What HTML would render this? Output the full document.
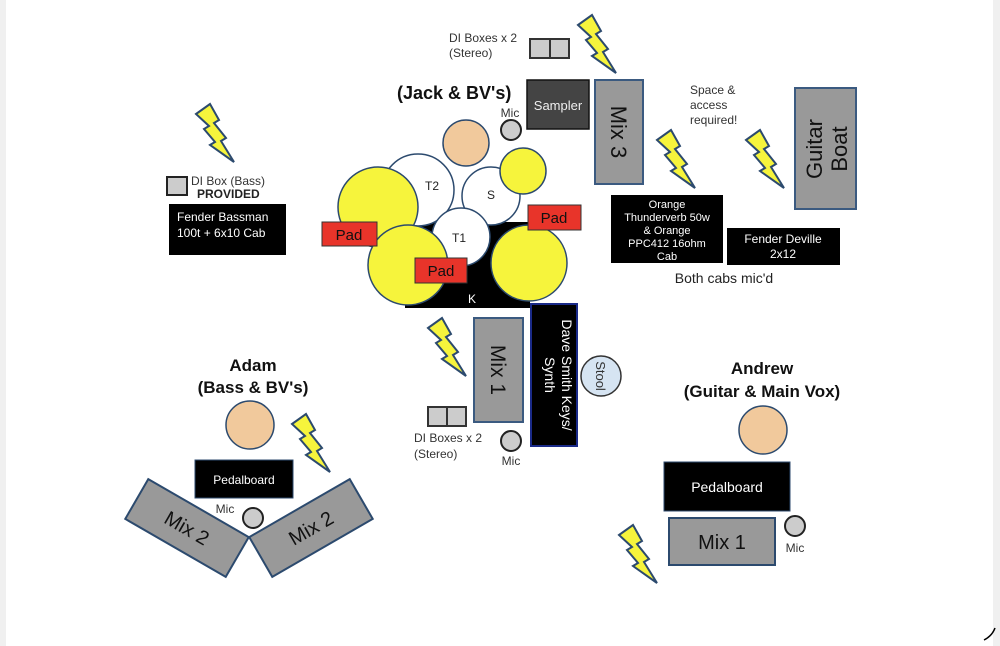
<!DOCTYPE html>
<html><head><meta charset="utf-8"><style>
html,body{margin:0;padding:0;background:#fff;}
svg{display:block;font-family:"Liberation Sans",Arial,sans-serif;}
</style></head><body>
<svg width="1000" height="646" viewBox="0 0 1000 646" xmlns="http://www.w3.org/2000/svg">
<defs>
<path id="b" d="M0,10 L14,0 L23,16 L18,19 L30,34 L25,37 L38,58 L14,41 L19,38 L8,25 L13,22 Z" fill="#f6f43c" stroke="#2c4a6e" stroke-width="2" stroke-linejoin="miter"/>
</defs>
<rect x="0" y="0" width="1000" height="646" fill="#fff"/>
<rect x="0" y="0" width="6" height="646" fill="#f0f0f0"/>
<rect x="993" y="0" width="7" height="646" fill="#f0f0f0"/>
<path d="M984,640 Q992,636 995,628" fill="none" stroke="#000" stroke-width="1.5"/>

<use href="#b" x="578" y="15"/>
<use href="#b" x="196" y="104"/>
<use href="#b" x="657" y="130"/>
<use href="#b" x="746" y="130"/>
<use href="#b" x="428" y="318"/>
<use href="#b" x="292" y="414"/>
<use href="#b" x="619" y="525"/>

<text x="449" y="42" font-size="12" fill="#333">DI Boxes x 2</text>
<text x="449" y="57" font-size="12" fill="#333">(Stereo)</text>
<rect x="530" y="39" width="20" height="19" fill="#ccc" stroke="#333" stroke-width="2"/>
<rect x="550" y="39" width="19" height="19" fill="#ccc" stroke="#333" stroke-width="2"/>

<text x="397" y="99" font-size="18" font-weight="bold" fill="#111">(Jack &amp; BV's)</text>
<rect x="527" y="80" width="62" height="49" fill="#444" stroke="#111" stroke-width="1.5"/>
<text x="558" y="110" font-size="13" fill="#eee" text-anchor="middle">Sampler</text>
<rect x="595" y="80" width="48" height="104" fill="#999" stroke="#3b5a80" stroke-width="2"/>
<text transform="translate(611,132) rotate(90)" font-size="22" text-anchor="middle" fill="#111">Mix 3</text>
<text x="510" y="117" font-size="12" fill="#333" text-anchor="middle">Mic</text>
<circle cx="511" cy="130" r="10" fill="#ccc" stroke="#222" stroke-width="2"/>

<circle cx="466" cy="143" r="23" fill="#f1c99c" stroke="#2c4a6e" stroke-width="1.5"/>
<rect x="405" y="222" width="125" height="86" fill="#000"/>
<circle cx="418" cy="190" r="36" fill="#fff" stroke="#2c4a6e" stroke-width="1.5"/>
<circle cx="491" cy="196" r="29" fill="#fff" stroke="#2c4a6e" stroke-width="1.5"/>
<circle cx="523" cy="171" r="23" fill="#f6f43c" stroke="#2c4a6e" stroke-width="1.5"/>
<circle cx="378" cy="207" r="40" fill="#f6f43c" stroke="#2c4a6e" stroke-width="1.5"/>
<circle cx="461" cy="237" r="29" fill="#fff" stroke="#2c4a6e" stroke-width="1.5"/>
<circle cx="408" cy="265" r="40" fill="#f6f43c" stroke="#2c4a6e" stroke-width="1.5"/>
<circle cx="529" cy="263" r="38" fill="#f6f43c" stroke="#2c4a6e" stroke-width="1.5"/>
<text x="425" y="190" font-size="12" fill="#222">T2</text>
<text x="487" y="199" font-size="12" fill="#222">S</text>
<text x="452" y="242" font-size="12" fill="#222">T1</text>
<text x="468" y="303" font-size="12" fill="#fff">K</text>
<rect x="322" y="222" width="55" height="24" fill="#e8342a" stroke="#333" stroke-width="1"/>
<text x="349" y="240" font-size="15" text-anchor="middle" fill="#111">Pad</text>
<rect x="415" y="258" width="52" height="25" fill="#e8342a" stroke="#333" stroke-width="1"/>
<text x="441" y="276" font-size="15" text-anchor="middle" fill="#111">Pad</text>
<rect x="528" y="205" width="53" height="25" fill="#e8342a" stroke="#333" stroke-width="1"/>
<text x="554" y="223" font-size="15" text-anchor="middle" fill="#111">Pad</text>

<rect x="474" y="318" width="49" height="104" fill="#999" stroke="#3b5a80" stroke-width="2"/>
<text transform="translate(491,370) rotate(90)" font-size="21" text-anchor="middle" fill="#111">Mix 1</text>
<rect x="531" y="304" width="46" height="142" fill="#000" stroke="#1a2a88" stroke-width="2"/>
<text transform="translate(562,375) rotate(90)" font-size="14" text-anchor="middle" fill="#fff">Dave Smith Keys/</text>
<text transform="translate(545,375) rotate(90)" font-size="14" text-anchor="middle" fill="#fff">Synth</text>
<circle cx="601" cy="376" r="20" fill="#d6e4f2" stroke="#333" stroke-width="1.5"/>
<text transform="translate(596,376) rotate(90)" font-size="13" text-anchor="middle" fill="#333">Stool</text>
<rect x="428" y="407" width="19" height="19" fill="#ccc" stroke="#333" stroke-width="2"/>
<rect x="447" y="407" width="19" height="19" fill="#ccc" stroke="#333" stroke-width="2"/>
<text x="414" y="442" font-size="12" fill="#333">DI Boxes x 2</text>
<text x="414" y="458" font-size="12" fill="#333">(Stereo)</text>
<circle cx="511" cy="441" r="10" fill="#ccc" stroke="#222" stroke-width="2"/>
<text x="511" y="465" font-size="12" fill="#333" text-anchor="middle">Mic</text>

<text x="690" y="94" font-size="12" fill="#333">Space &amp;</text>
<text x="690" y="109" font-size="12" fill="#333">access</text>
<text x="690" y="124" font-size="12" fill="#333">required!</text>
<rect x="795" y="88" width="61" height="121" fill="#999" stroke="#3b5a80" stroke-width="2"/>
<text transform="translate(822,149) rotate(-90)" font-size="22" text-anchor="middle" fill="#111">Guitar</text>
<text transform="translate(847,149) rotate(-90)" font-size="22" text-anchor="middle" fill="#111">Boat</text>
<rect x="611" y="195" width="112" height="68" fill="#000"/>
<text font-size="11" fill="#fff" text-anchor="middle"><tspan x="667" y="208">Orange</tspan><tspan x="667" y="221">Thunderverb 50w</tspan><tspan x="667" y="234">&amp; Orange</tspan><tspan x="667" y="247">PPC412 16ohm</tspan><tspan x="667" y="260">Cab</tspan></text>
<rect x="727" y="228" width="113" height="37" fill="#000"/>
<text x="783" y="243" font-size="12" fill="#fff" text-anchor="middle">Fender Deville</text>
<text x="783" y="258" font-size="12" fill="#fff" text-anchor="middle">2x12</text>
<text x="724" y="283" font-size="14" fill="#222" text-anchor="middle">Both cabs mic'd</text>

<rect x="167" y="177" width="20" height="18" fill="#ccc" stroke="#222" stroke-width="2"/>
<text x="191" y="185" font-size="12" fill="#333">DI Box (Bass)</text>
<text x="197" y="198" font-size="12" font-weight="bold" fill="#222">PROVIDED</text>
<rect x="169" y="204" width="117" height="51" fill="#000"/>
<text x="177" y="221" font-size="12" fill="#fff">Fender Bassman</text>
<text x="177" y="237" font-size="12" fill="#fff">100t + 6x10 Cab</text>

<text x="253" y="371" font-size="17" font-weight="bold" text-anchor="middle" fill="#111">Adam</text>
<text x="253" y="393" font-size="17" font-weight="bold" text-anchor="middle" fill="#111">(Bass &amp; BV's)</text>
<circle cx="250" cy="425" r="24" fill="#f1c99c" stroke="#2c4a6e" stroke-width="1.5"/>
<rect x="195" y="460" width="98" height="38" fill="#000" stroke="#2c4a6e" stroke-width="1"/>
<text x="244" y="484" font-size="12" fill="#fff" text-anchor="middle">Pedalboard</text>
<g transform="translate(187,528) rotate(30)"><rect x="-58" y="-23" width="116" height="46" fill="#999" stroke="#2c4a6e" stroke-width="2"/><text x="0" y="7" font-size="20" text-anchor="middle" fill="#111">Mix 2</text></g>
<g transform="translate(311,528) rotate(-30)"><rect x="-58" y="-23" width="116" height="46" fill="#999" stroke="#2c4a6e" stroke-width="2"/><text x="0" y="7" font-size="20" text-anchor="middle" fill="#111">Mix 2</text></g>
<circle cx="253" cy="518" r="10" fill="#ccc" stroke="#222" stroke-width="2"/>
<text x="225" y="513" font-size="12" fill="#333" text-anchor="middle">Mic</text>

<text x="762" y="374" font-size="17" font-weight="bold" text-anchor="middle" fill="#111">Andrew</text>
<text x="762" y="397" font-size="17" font-weight="bold" text-anchor="middle" fill="#111">(Guitar &amp; Main Vox)</text>
<circle cx="763" cy="430" r="24" fill="#f1c99c" stroke="#2c4a6e" stroke-width="1.5"/>
<rect x="664" y="462" width="126" height="49" fill="#000" stroke="#2c4a6e" stroke-width="1"/>
<text x="727" y="492" font-size="14" fill="#fff" text-anchor="middle">Pedalboard</text>
<rect x="669" y="518" width="106" height="47" fill="#999" stroke="#2c4a6e" stroke-width="2"/>
<text x="722" y="549" font-size="20" text-anchor="middle" fill="#111">Mix 1</text>
<circle cx="795" cy="526" r="10" fill="#ccc" stroke="#222" stroke-width="2"/>
<text x="795" y="552" font-size="12" fill="#333" text-anchor="middle">Mic</text>
</svg>
</body></html>
